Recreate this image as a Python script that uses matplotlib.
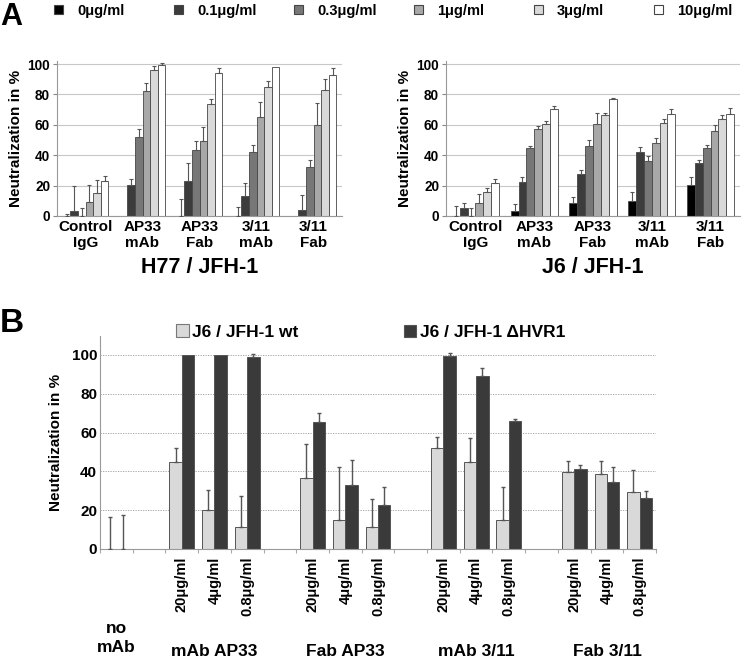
import numpy as np
import matplotlib
matplotlib.use('Agg')
import matplotlib.pyplot as plt
from matplotlib.patches import Rectangle

plt.rcParams['font.family'] = ['Liberation Sans', 'DejaVu Sans']
plt.rcParams['font.weight'] = 'bold'
plt.rcParams['axes.labelweight'] = 'bold'

# ---- Panel A data (neutralization %, one array per antibody concentration) ----
groups_a = ['Control\nIgG', 'AP33\nmAb', 'AP33\nFab', '3/11\nmAb', '3/11\nFab']
conc_labels = ['0μg/ml', '0.1μg/ml', '0.3μg/ml', '1μg/ml', '3μg/ml', '10μg/ml']
conc_colors = ['#000000', '#3c3c3c', '#777777', '#a8a8a8', '#d9d9d9', '#ffffff']

h77_0 = [0, 0, 0, 0, 0]
h77_01 = [3.1, 20.4, 23.2, 13.4, 3.9]
h77_03 = [0, 51.8, 43.4, 42.3, 32.3]
h77_1 = [9.0, 82.2, 49.6, 64.9, 59.9]
h77_3 = [15.1, 96.0, 73.7, 84.6, 82.9]
h77_10 = [23.2, 99.3, 93.9, 97.8, 92.8]
h77_err_0 = [1.3, 0, 11.0, 5.7, 0]
h77_err_01 = [16.9, 3.7, 11.4, 8.1, 9.9]
h77_err_03 = [5.0, 5.4, 5.9, 4.2, 4.5]
h77_err_1 = [11.4, 5.5, 8.7, 10.1, 14.2]
h77_err_3 = [8.4, 2.7, 3.1, 4.4, 7.0]
h77_err_10 = [3.1, 1.1, 3.2, 0, 4.3]

j6_0 = [0, 3.5, 8.3, 10.1, 20.4]
j6_01 = [5.3, 22.6, 27.4, 42.3, 34.6]
j6_03 = [0, 44.5, 46.0, 36.2, 44.5]
j6_1 = [8.3, 57.2, 60.5, 48.0, 56.1]
j6_3 = [15.6, 60.5, 66.4, 61.0, 63.8]
j6_10 = [21.5, 70.4, 76.8, 67.1, 67.1]
j6_err_0 = [6.6, 4.2, 4.0, 5.9, 5.0]
j6_err_01 = [3.0, 3.3, 2.9, 2.9, 2.2]
j6_err_03 = [5.0, 1.5, 4.0, 3.1, 2.0]
j6_err_1 = [6.2, 2.0, 7.0, 3.1, 3.8]
j6_err_3 = [2.6, 1.8, 1.1, 2.6, 2.6]
j6_err_10 = [2.6, 2.0, 0.8, 3.1, 3.7]

# ---- Panel B data (17 slots, NaN = empty spacer slot) ----
nan = np.nan
dose_labels = ['', '', '20μg/ml', '4μg/ml', '0.8μg/ml', '',
               '20μg/ml', '4μg/ml', '0.8μg/ml', '',
               '20μg/ml', '4μg/ml', '0.8μg/ml', '',
               '20μg/ml', '4μg/ml', '0.8μg/ml']
group_labels_b = ['mAb AP33', 'Fab AP33', 'mAb 3/11', 'Fab 3/11']
wt = [0, nan, 45.1, 20.2, 11.3, nan, 36.8, 15.0, 11.3, nan, 52.3, 44.8, 15.1, nan, 39.6, 38.6, 29.3]
wt_err = [16.5, 0, 6.9, 10.3, 16.1, 0, 17.3, 27.3, 14.5, 0, 5.3, 12.3, 17.1, 0, 6.0, 7.0, 11.4]
dhvr1 = [0, nan, 100, 100, 99.1, nan, 65.6, 33.1, 22.7, nan, 99.5, 89.2, 65.9, nan, 41.2, 34.3, 26.2]
dhvr1_err = [17.7, 0, 0, 0, 1.2, 0, 4.7, 12.8, 9.4, 0, 1.4, 4.1, 1.0, 0, 2.0, 8.2, 3.6]

W, H = 742, 658
fig = plt.figure(figsize=(W / 100, H / 100), dpi=100)


def px_axes(x0, y_top, x1, y_bot):
    """Add axes from pixel box (top-left origin)."""
    return fig.add_axes([x0 / W, 1 - y_bot / H, (x1 - x0) / W, (y_bot - y_top) / H])


def up_errorbar(ax, x, y, err, **kw):
    x, y, err = np.asarray(x, float), np.asarray(y, float), np.asarray(err, float)
    m = (err > 0) & ~np.isnan(y)
    if m.any():
        ax.errorbar(x[m], y[m], yerr=[np.zeros(m.sum()), err[m]], fmt='none',
                    ecolor='#555555', zorder=3, **kw)


def style_axes(ax):
    for s in ['top', 'right']:
        ax.spines[s].set_visible(False)
    for s in ['left', 'bottom']:
        ax.spines[s].set_color('#999999')
    for lab in ax.get_xticklabels(which='both') + ax.get_yticklabels():
        lab.set_fontweight('bold')
    ax.set_axisbelow(True)


def draw_panel_a(ax, series, errs, title):
    x = np.arange(len(groups_a))
    w = 0.8 / len(series)
    for i, (vals, err) in enumerate(zip(series, errs)):
        pos = x - 0.4 + w * (i + 0.5)
        ax.bar(pos, vals, w, color=conc_colors[i], edgecolor='#454545',
               linewidth=0.6, zorder=2)
        up_errorbar(ax, pos, vals, err, elinewidth=0.8, capsize=1.3, capthick=0.8)
    ax.set_xlim(-0.5, len(groups_a) - 0.5)
    ax.set_ylim(0, 102)
    ax.set_yticks(range(0, 101, 20))
    ax.set_xticks(x, groups_a)
    ax.tick_params(axis='x', length=0, pad=3, labelsize=11)
    ax.tick_params(axis='y', length=3, pad=2, labelsize=9.8, color='#888888')
    ax.yaxis.grid(True, color='#c8c8c8', linewidth=0.8)
    style_axes(ax)
    ax.set_ylabel('Neutralization in %', fontsize=11, labelpad=3)
    ax.text(0.5, -0.335, title, transform=ax.transAxes, ha='center', va='center',
            fontsize=15.5)


ax1 = px_axes(57, 61, 342, 216)
draw_panel_a(ax1, [h77_0, h77_01, h77_03, h77_1, h77_3, h77_10],
             [h77_err_0, h77_err_01, h77_err_03, h77_err_1, h77_err_3, h77_err_10],
             'H77 / JFH-1')
ax2 = px_axes(446, 61, 740, 216)
draw_panel_a(ax2, [j6_0, j6_01, j6_03, j6_1, j6_3, j6_10],
             [j6_err_0, j6_err_01, j6_err_03, j6_err_1, j6_err_3, j6_err_10],
             'J6 / JFH-1')

# legend for panel A
for i, (lab, col) in enumerate(zip(conc_labels, conc_colors)):
    x0 = 54 + 120 * i
    fig.add_artist(Rectangle((x0 / W, 1 - 14 / H), 9 / W, 9 / H, transform=fig.transFigure,
                             facecolor=col, edgecolor='#454545', linewidth=0.8))
    fig.text((x0 + 23) / W, 1 - 15 / H, lab, fontsize=10.5, va='baseline')

fig.text(0.0, 1 - 25 / H, 'A', fontsize=22, va='baseline')
fig.text(0.0, 1 - 332 / H, 'B', fontsize=24, va='baseline')

# ---- Panel B ----
axb = px_axes(100, 335.6, 656, 549)
slots = np.arange(len(wt))
bw = 0.38
axb.bar(slots + 0.5 - bw / 2, wt, bw, color='#d9d9d9', edgecolor='#555555',
        linewidth=0.7, zorder=2)
axb.bar(slots + 0.5 + bw / 2, dhvr1, bw, color='#3a3a3a', edgecolor='#555555',
        linewidth=0.7, zorder=2)
up_errorbar(axb, slots + 0.5 - bw / 2, wt, wt_err, elinewidth=1.0, capsize=1.6, capthick=1.0)
up_errorbar(axb, slots + 0.5 + bw / 2, dhvr1, dhvr1_err, elinewidth=1.0, capsize=1.6, capthick=1.0)
axb.set_xlim(0, len(wt))
axb.set_ylim(0, 110)
axb.set_yticks(range(0, 101, 20))
axb.set_xticks(np.arange(0, len(wt) + 1))
axb.set_xticklabels([])
axb.set_xticks(slots + 0.5, dose_labels, minor=True)
axb.tick_params(axis='x', which='major', length=3, color='#aaaaaa')
axb.tick_params(axis='x', which='minor', length=0, pad=5.5, labelsize=10.5, rotation=90)
axb.tick_params(axis='y', length=0, pad=2, labelsize=11)
axb.yaxis.grid(True, color='#9a9a9a', linewidth=0.6, linestyle=(0, (1.5, 1.5)))
style_axes(axb)
axb.set_ylabel('Neutralization in %', fontsize=11, labelpad=6)

axb.text(0.5, -0.337, 'no\nmAb', transform=axb.get_xaxis_transform(), ha='center',
         va='top', fontsize=12.5, linespacing=1.35)
for i, lab in enumerate(group_labels_b):
    axb.text(3.5 + 4 * i, -0.501, lab, transform=axb.get_xaxis_transform(),
             ha='center', va='baseline', fontsize=12.5)

# legend for panel B
fig.add_artist(Rectangle((176 / W, 1 - 337 / H), 13 / W, 13 / H, transform=fig.transFigure,
                         facecolor='#d9d9d9', edgecolor='#777777', linewidth=0.8))
fig.text(192 / W, 1 - 337 / H, 'J6 / JFH-1 wt', fontsize=12.5, va='baseline')
fig.add_artist(Rectangle((404 / W, 1 - 337 / H), 12 / W, 12 / H, transform=fig.transFigure,
                         facecolor='#3a3a3a', edgecolor='#555555', linewidth=0.8))
fig.text(420 / W, 1 - 337 / H, 'J6 / JFH-1 ΔHVR1', fontsize=12.5, va='baseline')

fig.savefig('out.png', dpi=100)
